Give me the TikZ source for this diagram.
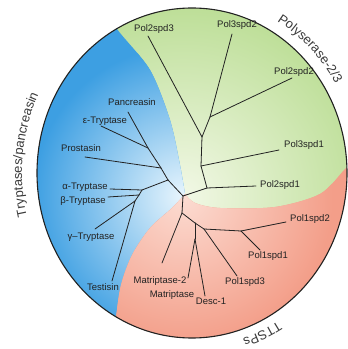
\documentclass[tikz,border=0pt]{standalone}
\usepackage{fontspec}
\setmainfont{Liberation Sans}
\usetikzlibrary{decorations.text}
\definecolor{treeink}{HTML}{222222}
\definecolor{arcink}{HTML}{3A3A3A}
\definecolor{tryptaseblue}{HTML}{3D9FE2}
\definecolor{tryptasepale}{HTML}{E8F5FD}
\definecolor{polygreen}{HTML}{BADD93}
\definecolor{polypale}{HTML}{F2F8E6}
\definecolor{ttsppink}{HTML}{F39E89}
\definecolor{ttsppale}{HTML}{FCDCD2}
\newcommand{\leaffont}{\fontsize{9.5}{11}\selectfont}
\newcommand{\sectorfont}{\fontsize{13}{15}\selectfont}
\begin{document}
\begin{tikzpicture}[x=1pt,y=1pt,line cap=round,
	branch/.style={draw=treeink,line width=0.8pt},
	leaf/.style={font=\leaffont,text=treeink,inner sep=0pt,anchor=base},
	sector/.style={decorate,decoration={text along path,text align=center,text color=arcink,text={|\sectorfont|#1}}}]
	\useasboundingbox (0,0) rectangle (348,349);
	\coordinate (ctr) at (192,176);
	\coordinate (r) at (183,153);
	\coordinate (g1) at (207,161);
	\coordinate (g2) at (201,183);
	\coordinate (g3) at (202,212);
	\coordinate (g4) at (210,232);
	\coordinate (pol2spd1) at (256,163);
	\coordinate (pol3spd1) at (279,199);
	\coordinate (pol2spd3) at (148,313);
	\coordinate (pol3spd2) at (232,315);
	\coordinate (pol2spd2) at (292,271);
	\coordinate (b2) at (168,169);
	\coordinate (b3) at (161,181);
	\coordinate (b4) at (148,201);
	\coordinate (ba) at (142,159);
	\coordinate (bd) at (139,154);
	\coordinate (bc) at (135,148);
	\coordinate (pancreasin) at (128,237);
	\coordinate (etryptase) at (101,223);
	\coordinate (prostasin) at (85,192);
	\coordinate (atryptase) at (110,160);
	\coordinate (btryptase) at (108,152);
	\coordinate (gtryptase) at (95,120);
	\coordinate (testisin) at (112,68);
	\coordinate (p1) at (182,136);
	\coordinate (p2) at (195,126);
	\coordinate (p3) at (195,110);
	\coordinate (p4) at (204,120);
	\coordinate (p5) at (241,118);
	\coordinate (matriptase2) at (162,86);
	\coordinate (matriptase) at (188,71);
	\coordinate (desc1) at (205,53);
	\coordinate (pol1spd3) at (237,73);
	\coordinate (pol1spd2) at (286,127);
	\coordinate (pol1spd1) at (260,99);
	\begin{scope}
		\clip (ctr) ellipse [x radius=155,y radius=165];
		\fill[polygreen] (r) circle (260);
		\shade[inner color=polypale,outer color=polygreen] (r) circle (200);
		\begin{scope}
			\clip plot[smooth] coordinates {(185,155) (172,141) (150,121) (132,94) (121,64) (116,31) (113,-5)} -- (-5,-5) -- (-5,355) -- plot[smooth] coordinates {(95,355) (117,320) (150,279) (170,229) (180,184) (185,155)} -- cycle;
			\fill[tryptaseblue] (r) circle (260);
			\shade[inner color=tryptasepale,outer color=tryptaseblue] (r) circle (150);
		\end{scope}
		\begin{scope}
			\clip plot[smooth] coordinates {(185,155) (195,146) (220,141) (275,142) (320,155) (345,180) (360,195)} -- (360,-5) -- plot[smooth] coordinates {(113,-5) (116,31) (121,64) (132,94) (150,121) (172,141) (185,155)} -- cycle;
			\fill[ttsppink] (r) circle (260);
			\shade[inner color=ttsppale,outer color=ttsppink] (r) circle (150);
		\end{scope}
	\end{scope}
	\draw[treeink,line width=1.1pt] (ctr) ellipse [x radius=155,y radius=165];
	\draw[branch] (r) -- (g1);
	\draw[branch] (g1) -- (pol2spd1);
	\draw[branch] (g1) -- (g2);
	\draw[branch] (g2) -- (pol3spd1);
	\draw[branch] (g2) -- (g3);
	\draw[branch] (g3) -- (pol2spd3);
	\draw[branch] (g3) -- (g4);
	\draw[branch] (g4) -- (pol3spd2);
	\draw[branch] (g4) -- (pol2spd2);
	\draw[branch] (r) -- (b2);
	\draw[branch] (b2) -- (b3);
	\draw[branch] (b3) -- (prostasin);
	\draw[branch] (b3) -- (b4);
	\draw[branch] (b4) -- (pancreasin);
	\draw[branch] (b4) -- (etryptase);
	\draw[branch] (b2) -- (ba);
	\draw[branch] (ba) -- (atryptase);
	\draw[branch] (ba) -- (bd);
	\draw[branch] (bd) -- (btryptase);
	\draw[branch] (bd) -- (bc);
	\draw[branch] (bc) -- (gtryptase);
	\draw[branch] (bc) -- (testisin);
	\draw[branch] (r) -- (p1);
	\draw[branch] (p1) -- (matriptase2);
	\draw[branch] (p1) -- (p2);
	\draw[branch] (p2) -- (p3);
	\draw[branch] (p3) -- (matriptase);
	\draw[branch] (p3) -- (desc1);
	\draw[branch] (p2) -- (p4);
	\draw[branch] (p4) -- (pol1spd3);
	\draw[branch] (p4) -- (p5);
	\draw[branch] (p5) -- (pol1spd2);
	\draw[branch] (p5) -- (pol1spd1);
	\node[leaf] (pol2spd3lab) at (154,317) {Pol2spd3};
	\node[leaf] (pol3spd2lab) at (237,321) {Pol3spd2};
	\node[leaf] (pol2spd2lab) at (294,274) {Pol2spd2};
	\node[leaf] (pol3spd1lab) at (304,201) {Pol3spd1};
	\node[leaf] (pol2spd1lab) at (280,161) {Pol2spd1};
	\node[leaf] (pol1spd2lab) at (310,128) {Pol1spd2};
	\node[leaf] (pol1spd1lab) at (268,91) {Pol1spd1};
	\node[leaf] (pol1spd3lab) at (245,64) {Pol1spd3};
	\node[leaf] (desc1lab) at (211,45) {Desc-1};
	\node[leaf] (matriptaselab) at (172,52) {Matriptase};
	\node[leaf] (matriptase2lab) at (160,66) {Matriptase-2};
	\node[leaf] (testisinlab) at (103,58) {Testisin};
	\node[leaf] (gtryptaselab) at (91,110) {γ–Tryptase};
	\node[leaf] (btryptaselab) at (83,145) {β-Tryptase};
	\node[leaf] (atryptaselab) at (85,159) {α-Tryptase};
	\node[leaf] (prostasinlab) at (81,197) {Prostasin};
	\node[leaf] (etryptaselab) at (105,225) {ε-Tryptase};
	\node[leaf] (pancreasinlab) at (132,243) {Pancreasin};
	\path[sector={Tryptases/pancreasin}] ([shift={(213:170 and 182)}]ctr) arc[start angle=213,end angle=135,x radius=170,y radius=182];
	\path[sector={Polyserase-2/3}] ([shift={(75:166 and 177)}]ctr) arc[start angle=75,end angle=15,x radius=166,y radius=177];
	\path[sector={TTSPs}] ([shift={(-45:165 and 174)}]ctr) arc[start angle=-45,end angle=-86,x radius=165,y radius=174];
\end{tikzpicture}
\end{document}
